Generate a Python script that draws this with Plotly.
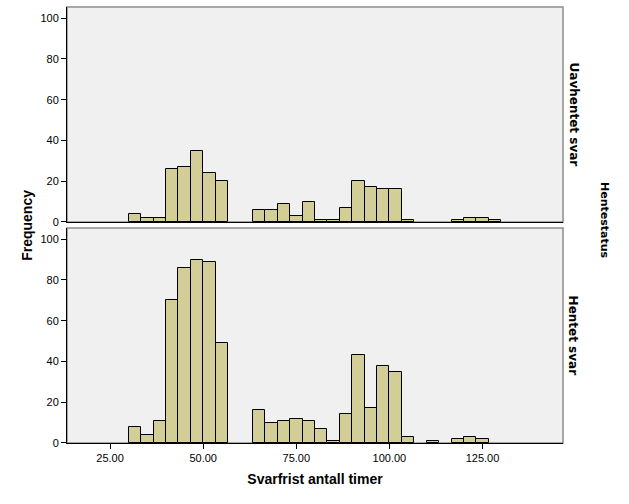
import plotly.graph_objects as go
from plotly.subplots import make_subplots

# Histogram bins
BIN_START = 30.0
BIN_WIDTH = 10.0 / 3.0

# Counts per bin (Uavhentet svar = top panel, Hentet svar = bottom panel)
uavhentet_counts = [4, 2, 2, 26, 27, 35, 24, 20, 0, 0,
                    6, 6, 9, 3, 10, 1, 1, 7, 20, 17,
                    16, 16, 1, 0, 0, 0, 1, 2, 2, 1]
hentet_counts = [8, 4, 11, 70, 86, 90, 89, 49, 0, 0,
                 16, 10, 11, 12, 11, 7, 1, 14, 43, 17,
                 38, 35, 3, 0, 1, 0, 2, 3, 2, 0]

panel_labels = ["Uavhentet svar", "Hentet svar"]
x_ticks = [25, 50, 75, 100, 125]
y_ticks = [0, 20, 40, 60, 80, 100]

centers = [BIN_START + BIN_WIDTH * (i + 0.5) for i in range(len(uavhentet_counts))]

BAR_FILL = "#D3CE97"
PANEL_BG = "#F0F0F0"

fig = make_subplots(rows=2, cols=1, shared_xaxes=True, vertical_spacing=0.0138)

for row, counts in ((1, uavhentet_counts), (2, hentet_counts)):
    xs = [c for c, v in zip(centers, counts) if v > 0]
    ys = [v for v in counts if v > 0]
    fig.add_trace(go.Bar(
        x=xs, y=ys, width=BIN_WIDTH,
        marker=dict(color=BAR_FILL, line=dict(color="black", width=1)),
        showlegend=False, hoverinfo="x+y"), row=row, col=1)

xrange = [13.44, 146.6]
yrange = [0, 105.5]

fig.update_xaxes(range=xrange, tickvals=x_ticks, tickformat=".2f",
                 showgrid=False, zeroline=False, showline=True, linecolor="black",
                 linewidth=1,
                 tickfont=dict(family="Liberation Sans, Arial", size=11, color="black"))
fig.update_xaxes(ticks="", showticklabels=False, row=1, col=1)
fig.update_xaxes(ticks="outside", ticklen=5, tickcolor="black", tickwidth=1,
                 title=dict(text="<b>Svarfrist antall timer</b>",
                            font=dict(family="Liberation Sans, Arial", size=14, color="black"),
                            standoff=10),
                 row=2, col=1)

fig.update_yaxes(range=yrange, tickvals=y_ticks, showgrid=False, zeroline=False,
                 showline=True, linecolor="black", linewidth=1,
                 ticks="outside", ticklen=5, tickcolor="black", tickwidth=1,
                 tickfont=dict(family="Liberation Sans, Arial", size=11, color="black"))

# panel frames (grey top/right borders)
for yref, xref in (("y domain", "x domain"), ("y2 domain", "x2 domain")):
    fig.add_shape(type="rect", xref=xref, yref=yref, x0=0, x1=1, y0=0, y1=1,
                  line=dict(color="#8C8C8C", width=1.5), layer="below")

dom1 = fig.layout.yaxis.domain
dom2 = fig.layout.yaxis2.domain
for label, dom in ((panel_labels[0], dom1), (panel_labels[1], dom2)):
    fig.add_annotation(text="<b>%s</b>" % label, xref="paper", yref="paper",
                       x=1.022, y=(dom[0] + dom[1]) / 2, xanchor="center", yanchor="middle",
                       textangle=90, showarrow=False,
                       font=dict(family="DejaVu Sans", size=12, color="black"))

fig.add_annotation(text="<b>Hentestatus</b>", xref="paper", yref="paper",
                   x=1.085, y=0.511, xanchor="center", yanchor="middle",
                   textangle=90, showarrow=False,
                   font=dict(family="DejaVu Sans", size=11, color="black"))

fig.add_annotation(text="<b>Frequency</b>", xref="paper", yref="paper",
                   x=-0.081, y=0.5, xanchor="center", yanchor="middle",
                   textangle=-90, showarrow=False,
                   font=dict(family="Liberation Sans, Arial", size=14, color="black"))

fig.update_layout(
    width=629, height=504,
    margin=dict(l=67, r=66, t=7, b=61),
    paper_bgcolor="white", plot_bgcolor=PANEL_BG,
    bargap=0, barmode="overlay",
)

fig.write_html("out.html", config={"displayModeBar": False},
               post_script="document.body.style.margin='0px';document.body.style.overflow='hidden';")
